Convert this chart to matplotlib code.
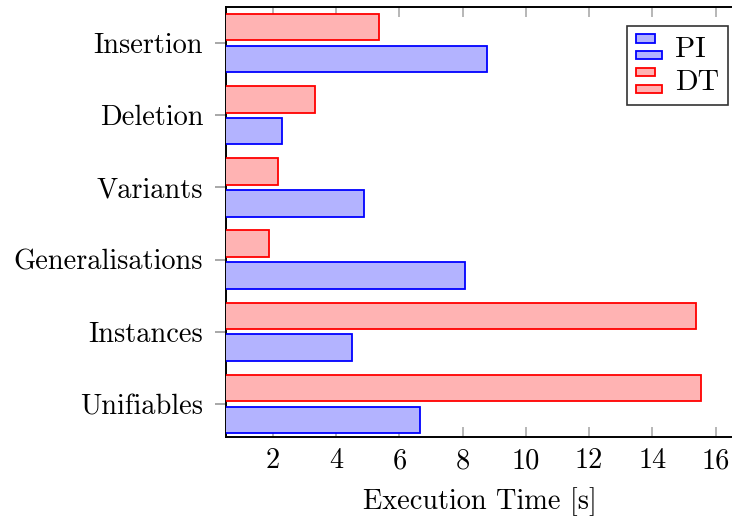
import matplotlib
matplotlib.use("Agg")
import matplotlib.pyplot as plt
from matplotlib.patches import Rectangle
from matplotlib.legend_handler import HandlerBase
import numpy as np

categories = ["Unifiables", "Instances", "Generalisations", "Variants", "Deletion", "Insertion"]
pi_values = [6.66, 4.49, 8.07, 4.89, 2.28, 8.78]
dt_values = [15.55, 15.37, 1.88, 2.16, 3.34, 5.35]
xticks = [2, 4, 6, 8, 10, 12, 14, 16]

plt.rcParams['font.family'] = 'serif'
plt.rcParams['font.serif'] = ['cmr10', 'DejaVu Serif']
plt.rcParams['axes.formatter.use_mathtext'] = True
plt.rcParams['mathtext.fontset'] = 'cm'

FS = 20.4
blue_fill = (179/255, 179/255, 1.0)
red_fill = (1.0, 179/255, 179/255)

fig = plt.figure(figsize=(7.32, 5.18), dpi=100)
W, H = 732, 518
left, right, top, bottom = 226, 733, 7, 437
ax = fig.add_axes([left / W, 1 - bottom / H, (right - left) / W, (bottom - top) / H])

y = np.arange(len(categories))
bh = 0.367
off = 0.22
ax.barh(y + off, dt_values, height=bh, color=red_fill, edgecolor='red', linewidth=1.3, label='DT', zorder=3)
ax.barh(y - off, pi_values, height=bh, color=blue_fill, edgecolor='blue', linewidth=1.3, label='PI', zorder=3)

ax.set_xlim(0.514, 16.55)
ax.set_ylim(-0.457, 5.499)
ax.set_yticks(y)
ax.set_yticklabels(categories, fontsize=FS)
ax.set_xticks(xticks)
ax.set_xticklabels([str(t) for t in xticks], fontsize=FS)

ax.tick_params(axis='x', direction='in', length=7.5, width=1.2, color='#aaaaaa',
               top=True, bottom=True, pad=8.0)
ax.tick_params(axis='y', direction='out', length=7.9, width=1.2, color='#999999',
               left=True, right=False, pad=8.5)

for s in ['top', 'bottom', 'left']:
    ax.spines[s].set_linewidth(1.4)
    ax.spines[s].set_color('black')
ax.spines['right'].set_visible(False)

ax.set_xlabel('Execution Time [s]', fontsize=FS, labelpad=9)


class HandlerXBar(HandlerBase):
    def __init__(self, fc, ec):
        super().__init__()
        self.fc = fc
        self.ec = ec

    def create_artists(self, legend, orig_handle, xdescent, ydescent, width, height, fontsize, trans):
        bhh = height * 0.36
        r1 = Rectangle((-xdescent, -ydescent + height * 0.66), width * 0.75, bhh,
                       facecolor=self.fc, edgecolor=self.ec, linewidth=1.3, transform=trans)
        r2 = Rectangle((-xdescent, -ydescent - height * 0.08), width, bhh,
                       facecolor=self.fc, edgecolor=self.ec, linewidth=1.3, transform=trans)
        return [r1, r2]


h_pi = Rectangle((0, 0), 1, 1)
h_dt = Rectangle((0, 0), 1, 1)
leg = ax.legend([h_pi, h_dt], ['PI', 'DT'],
                handler_map={h_pi: HandlerXBar(blue_fill, 'blue'), h_dt: HandlerXBar(red_fill, 'red')},
                loc='upper right', bbox_to_anchor=((728 - left) / (right - left), 1 - 19 / (bottom - top)),
                fontsize=FS + 1, frameon=True, fancybox=False, edgecolor='black',
                handlelength=0.85, handleheight=0.8, handletextpad=0.45, labelspacing=0.2,
                borderpad=0.3, borderaxespad=0.0)
leg.get_frame().set_linewidth(1.2)

fig.savefig('out.png', dpi=100)
